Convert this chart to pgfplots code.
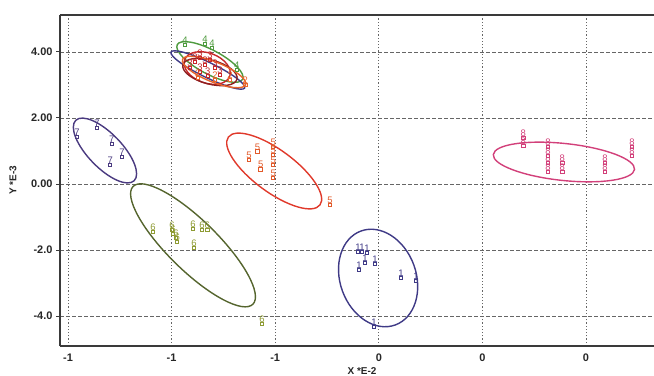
\documentclass[border=0pt]{standalone}
\usepackage{fontspec}
\setmainfont{Liberation Sans}
\usepackage{pgfplots}
\pgfplotsset{compat=1.18}
\definecolor{c1}{HTML}{3F3A86}
\definecolor{c7}{HTML}{4A3A80}
\definecolor{c5}{HTML}{E0392B}
\definecolor{c5m}{HTML}{E25A2A}
\definecolor{c6e}{HTML}{55652E}
\definecolor{c6}{HTML}{8E9B33}
\definecolor{c8}{HTML}{D2407A}
\definecolor{c2}{HTML}{E8642A}
\definecolor{c3}{HTML}{C8282A}
\definecolor{c3d}{HTML}{8E2020}
\definecolor{c4}{HTML}{4E9A3E}
\definecolor{gridc}{HTML}{666666}
\definecolor{axc}{HTML}{3A3A3A}
\pgfplotsset{
  grp/.style 2 args={only marks, mark=square, mark size=1.8bp, color=#1,
    mark options={line width=0.9bp},
    nodes near coords={#2},
    every node near coord/.append style={text=#1, font=\fontsize{9.5}{9.5}\selectfont, anchor=south, inner sep=0.3bp, yshift=0.5bp}},
}
\newcommand{\myell}[6]{\draw[#1, line width=1.4bp, rotate around={#4:(axis cs:#2,#3)}] (axis cs:#2,#3) ellipse [x radius=#5bp, y radius=#6bp];}
\begin{document}
\begin{tikzpicture}
\begin{axis}[
  scale only axis, width=594bp, height=331bp,
  xmin=-1.2232, xmax=0.4969, ymin=-4.909, ymax=5.121,
  axis x line*=bottom, axis y line*=left,
  axis line style={line width=1.6bp, color=axc},
  xtick={-1.2,-0.9,-0.6,-0.3,0,0.3}, xticklabels={-1,-1,-1,0,0,0},
  ytick={-4,-2,0,2,4}, yticklabels={-4.0,-2.0,0.00,2.00,4.00},
  tick align=outside, major tick length=4bp,
  xtick style={draw=none}, ytick style={line width=1bp, color=axc},
  ticklabel style={font=\bfseries\fontsize{11}{11}\selectfont, text=black!85},
  grid=major,
  major x grid style={gridc, line width=0.9bp, dash pattern=on 1.2bp off 2bp},
  major y grid style={gridc, line width=0.9bp, dash pattern=on 3.5bp off 2.5bp},
  xlabel={X *E-2}, ylabel={Y *E-3},
  every axis x label/.style={at={(axis description cs:0.5,0)}, xshift=5bp, yshift=-25bp, anchor=center, font=\bfseries\fontsize{10}{10}\selectfont, text=black!85},
  every axis y label/.style={at={(axis description cs:0,0.5)}, xshift=-47bp, rotate=90, anchor=center, font=\bfseries\fontsize{10}{10}\selectfont, text=black!85},
  clip=false,
]
% cluster 7
\addplot[grp={c7}{7}] table {
x y
-1.116 1.697
-1.174 1.424
-1.073 1.212
-1.044 0.818
-1.078 0.576
};
\myell{c7}{-1.093}{1.015}{-46}{42}{17}
% cluster 5
\addplot[grp={c5m}{5}] table {
x y
-0.676 0.727
-0.651 0.979
-0.642 0.445
-0.606 1.121
-0.606 0.879
-0.606 0.576
-0.606 0.182
-0.441 -0.636
};
\myell{c5}{-0.603}{0.394}{-36.5}{57}{21}
% cluster 6
\addplot[grp={c6}{6}] table {
x y
-0.954 -1.455
-0.899 -1.394
-0.896 -1.515
-0.887 -1.636
-0.884 -1.758
-0.838 -1.364
-0.835 -1.939
-0.812 -1.394
-0.797 -1.394
-0.638 -4.242
};
\myell{c6e}{-0.838}{-1.858}{-44.5}{84}{25}
% cluster 1
\addplot[grp={c1}{1}] table {
x y
-0.360 -2.061
-0.349 -2.061
-0.334 -2.091
-0.340 -2.394
-0.311 -2.424
-0.357 -2.606
-0.236 -2.848
-0.192 -2.939
-0.314 -4.333
};
\myell{c1}{-0.302}{-2.848}{110}{50}{38}
% cluster 8
\addplot[grp={c8}{8}] table {
x y
0.118 1.394
0.118 1.152
0.190 1.121
0.190 0.848
0.190 0.636
0.190 0.364
0.231 0.636
0.231 0.364
0.355 0.636
0.355 0.364
0.433 1.121
0.433 0.848
};
\myell{c8}{0.236}{0.667}{-6}{71}{18.5}
% top cluster
\addplot[grp={c4}{4}] table {
x y
-0.861 4.212
-0.803 4.242
-0.783 4.121
-0.711 3.455
};
\addplot[grp={c3}{3}] table {
x y
-0.832 3.697
-0.818 3.818
-0.803 3.606
-0.789 3.758
-0.774 3.515
-0.818 3.394
-0.795 3.273
-0.760 3.303
-0.847 3.515
};
\addplot[grp={c2}{2}] table {
x y
-0.687 3.000
-0.731 3.152
-0.774 3.152
-0.824 3.212
};
\myell{c4}{-0.789}{3.697}{-28}{37}{12}
\myell{c1}{-0.795}{3.455}{-26}{41}{7.5}
\myell{c3}{-0.797}{3.515}{-20}{24}{15}
\myell{c3d}{-0.789}{3.394}{-15}{28}{12}
\myell{c2}{-0.777}{3.394}{-22}{34}{10}
\draw[line width=1.6bp, color=axc] (rel axis cs:0,1) -- (rel axis cs:1,1);
\end{axis}
\pgfresetboundingbox
\path[use as bounding box] (-60bp,-30bp) rectangle (594bp,346bp);
\end{tikzpicture}
\end{document}
